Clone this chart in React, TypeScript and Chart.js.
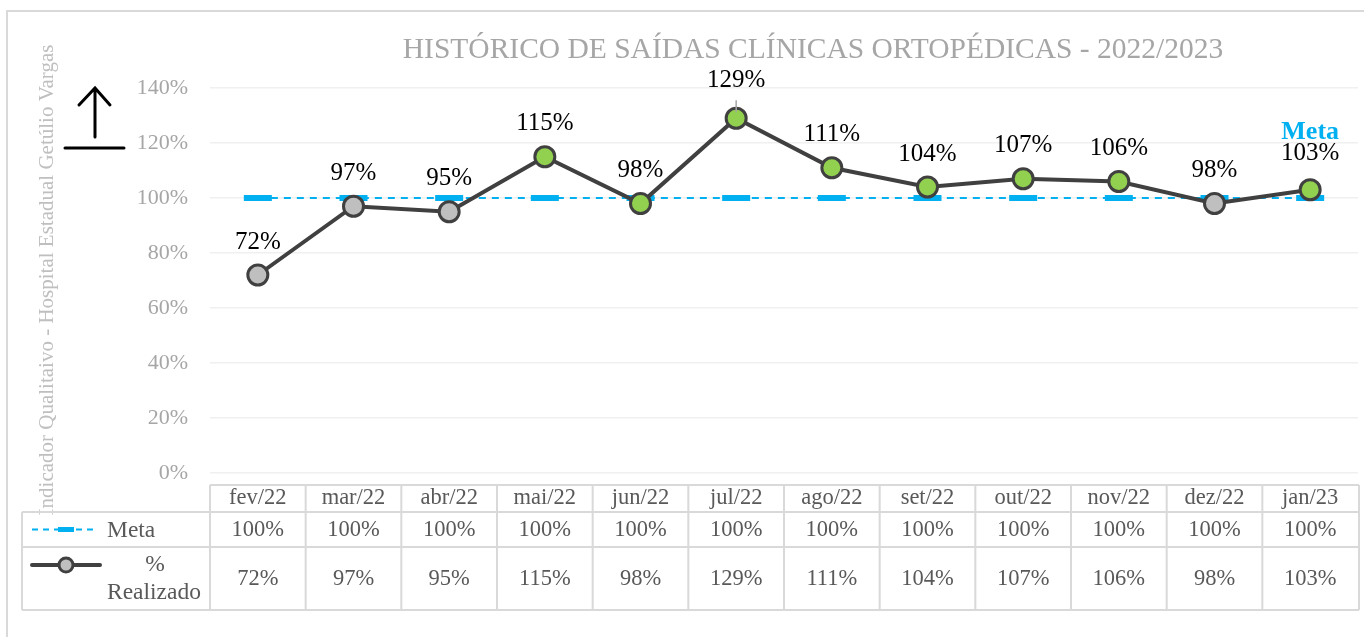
import { useEffect, useRef } from "react";
import { Chart, registerables } from "chart.js";

Chart.register(...registerables);

const categories = ["fev/22", "mar/22", "abr/22", "mai/22", "jun/22", "jul/22", "ago/22", "set/22", "out/22", "nov/22", "dez/22", "jan/23"];
const metaValues = [100, 100, 100, 100, 100, 100, 100, 100, 100, 100, 100, 100];
const realizadoValues = [72, 97, 95, 115, 98, 129, 111, 104, 107, 106, 98, 103];
const realizadoAcimaMeta = [false, false, false, true, true, true, true, true, true, true, false, true];
const yTickValues = [0, 20, 40, 60, 80, 100, 120, 140];
const chartTitle = "HISTÓRICO DE SAÍDAS CLÍNICAS ORTOPÉDICAS - 2022/2023";
const yAxisTitle = "Indicador Qualitaivo - Hospital Estadual Getúlio Vargas";
const metaLabel = "Meta";
const realizadoLabel = "% Realizado";

const SERIF = '"Liberation Serif", "Times New Roman", serif';
const BLUE = "#00B0F0";
const DARK = "#404040";
const GREEN = "#92D050";
const GRAY_FILL = "#BFBFBF";
const GRID = "#D9D9D9";
const TEXT = "#595959";

const decorPlugin = {
  id: "decor",
  beforeDraw(chart: any) {
    const ctx = chart.ctx;
    ctx.save();
    // outer frame
    ctx.strokeStyle = GRID;
    ctx.lineWidth = 2;
    ctx.beginPath();
    ctx.moveTo(7, 640);
    ctx.lineTo(7, 11);
    ctx.lineTo(1370, 11);
    ctx.stroke();
    // title
    ctx.fillStyle = "#A6A6A6";
    ctx.font = `29.5px ${SERIF}`;
    ctx.textAlign = "center";
    ctx.textBaseline = "middle";
    ctx.fillText(chartTitle, 813, 50);
    // y axis title
    ctx.save();
    ctx.translate(47, 280);
    ctx.rotate(-Math.PI / 2);
    ctx.fillStyle = "#BFBFBF";
    ctx.font = `21px ${SERIF}`;
    ctx.fillText(yAxisTitle, 0, 0);
    ctx.restore();
    // arrow symbol
    ctx.strokeStyle = "#000";
    ctx.lineWidth = 3;
    ctx.lineCap = "round";
    ctx.beginPath();
    ctx.moveTo(95, 137);
    ctx.lineTo(95, 88);
    ctx.moveTo(79, 105);
    ctx.lineTo(95, 88);
    ctx.lineTo(110, 105);
    ctx.moveTo(65, 148);
    ctx.lineTo(124, 148);
    ctx.stroke();
    ctx.restore();
  },
  afterDatasetsDraw(chart: any) {
    const ctx = chart.ctx;
    const xs = chart.scales.x;
    const ys = chart.scales.y;
    ctx.save();
    ctx.fillStyle = "#000";
    ctx.font = `25px ${SERIF}`;
    ctx.textAlign = "center";
    ctx.textBaseline = "middle";
    const maxIdx = realizadoValues.indexOf(Math.max(...realizadoValues));
    realizadoValues.forEach((v, i) => {
      const x = xs.getPixelForValue(i);
      const y = ys.getPixelForValue(v);
      let off = 33;
      if (i === maxIdx) {
        off = 38;
        ctx.strokeStyle = "#A6A6A6";
        ctx.lineWidth = 1.5;
        ctx.beginPath();
        ctx.moveTo(x, y - 18);
        ctx.lineTo(x, y - 6);
        ctx.stroke();
      }
      if (i === realizadoValues.length - 1) off = 36;
      ctx.fillText(`${v}%`, x, y - off);
    });
    // Meta label
    const lx = xs.getPixelForValue(categories.length - 1);
    ctx.fillStyle = BLUE;
    ctx.font = `bold 26px ${SERIF}`;
    ctx.fillText(metaLabel, lx, ys.getPixelForValue(metaValues[metaValues.length - 1]) - 66);
    ctx.restore();
  },
  afterDraw(chart: any) {
    const ctx = chart.ctx;
    const xs = chart.scales.x;
    const area = chart.chartArea;
    const colW = area.width / categories.length;
    const tLeft = 22;
    const hTop = 485;
    const r1 = 512;
    const r2 = 547;
    const r3 = 610;
    const left = area.left;
    const right = area.right + 1;
    ctx.save();
    ctx.strokeStyle = GRID;
    ctx.lineWidth = 2;
    ctx.beginPath();
    ctx.moveTo(left, hTop);
    ctx.lineTo(right, hTop);
    [r1, r2, r3].forEach((y) => {
      ctx.moveTo(tLeft, y);
      ctx.lineTo(right, y);
    });
    ctx.moveTo(tLeft, r1);
    ctx.lineTo(tLeft, r3);
    for (let i = 0; i <= categories.length; i++) {
      const x = i === categories.length ? right : xs.getPixelForValue(i) - colW / 2;
      ctx.moveTo(x, hTop);
      ctx.lineTo(x, r3);
    }
    ctx.stroke();

    ctx.fillStyle = TEXT;
    ctx.font = `22.5px ${SERIF}`;
    ctx.textAlign = "center";
    ctx.textBaseline = "middle";
    categories.forEach((c, i) => {
      const x = xs.getPixelForValue(i);
      ctx.fillText(c, x, (hTop + r1) / 2);
      ctx.fillText(`${metaValues[i]}%`, x, (r1 + r2) / 2 + 1);
      ctx.fillText(`${realizadoValues[i]}%`, x, (r2 + r3) / 2 + 1);
    });

    // legend keys
    const my = (r1 + r2) / 2;
    ctx.strokeStyle = BLUE;
    ctx.lineWidth = 2;
    ctx.setLineDash([6, 5]);
    ctx.beginPath();
    ctx.moveTo(32, my);
    ctx.lineTo(96, my);
    ctx.stroke();
    ctx.setLineDash([]);
    ctx.lineWidth = 5;
    ctx.beginPath();
    ctx.moveTo(58, my);
    ctx.lineTo(74, my);
    ctx.stroke();

    const ry = 565;
    ctx.strokeStyle = DARK;
    ctx.lineWidth = 4;
    ctx.lineCap = "round";
    ctx.beginPath();
    ctx.moveTo(32, ry);
    ctx.lineTo(100, ry);
    ctx.stroke();
    ctx.fillStyle = GRAY_FILL;
    ctx.lineWidth = 3;
    ctx.beginPath();
    ctx.arc(66, ry, 7, 0, Math.PI * 2);
    ctx.fill();
    ctx.stroke();

    ctx.fillStyle = TEXT;
    ctx.font = `23.5px ${SERIF}`;
    ctx.textAlign = "left";
    ctx.fillText(metaLabel, 107, my + 1);
    const [pct, word] = realizadoLabel.split(" ");
    ctx.textAlign = "center";
    ctx.fillText(pct, 155, ry);
    ctx.textAlign = "left";
    ctx.fillText(word, 107, 593);
    ctx.restore();
  },
};

export default function App() {
  const ref = useRef<HTMLCanvasElement | null>(null);
  useEffect(() => {
    if (!ref.current) return;
    const chart = new Chart(ref.current, {
      type: "line",
      data: {
        labels: categories,
        datasets: [
          {
            label: realizadoLabel,
            data: realizadoValues,
            borderColor: DARK,
            borderWidth: 4,
            pointRadius: 10,
            pointBorderWidth: 3,
            pointBorderColor: DARK,
            pointBackgroundColor: realizadoAcimaMeta.map((a) => (a ? GREEN : GRAY_FILL)),
            tension: 0,
          },
          {
            label: metaLabel,
            data: metaValues,
            borderColor: BLUE,
            borderWidth: 2,
            borderDash: [7, 6],
            pointStyle: "line",
            pointRadius: 14,
            pointBorderWidth: 6,
            pointBorderColor: BLUE,
            pointBackgroundColor: BLUE,
          },
        ],
      },
      options: {
        responsive: false,
        animation: false,
        devicePixelRatio: 1,
        layout: { autoPadding: false, padding: { left: 110, right: 6, top: 88, bottom: 164 } },
        plugins: { legend: { display: false }, tooltip: { enabled: false }, title: { display: false } },
        scales: {
          x: { type: "category", offset: true, display: false },
          y: {
            min: 0,
            max: 140,
            afterFit: (s: any) => {
              s.width = 100;
            },
            afterBuildTicks: (s: any) => {
              s.ticks = yTickValues.map((v) => ({ value: v }));
            },
            border: { display: false },
            grid: { color: "#F0F0F0", lineWidth: 1.5, drawTicks: false },
            ticks: {
              padding: 22,
              color: "#A6A6A6",
              font: { family: SERIF, size: 22 },
              callback: (v: any) => `${v}%`,
            },
          },
        },
      },
      plugins: [decorPlugin],
    });
    return () => chart.destroy();
  }, []);
  return (
    <div style={{ position: "fixed", left: 0, top: 0, width: 1364, height: 637, background: "#fff" }}>
      <canvas ref={ref} width={1364} height={637} style={{ display: "block" }} />
    </div>
  );
}
